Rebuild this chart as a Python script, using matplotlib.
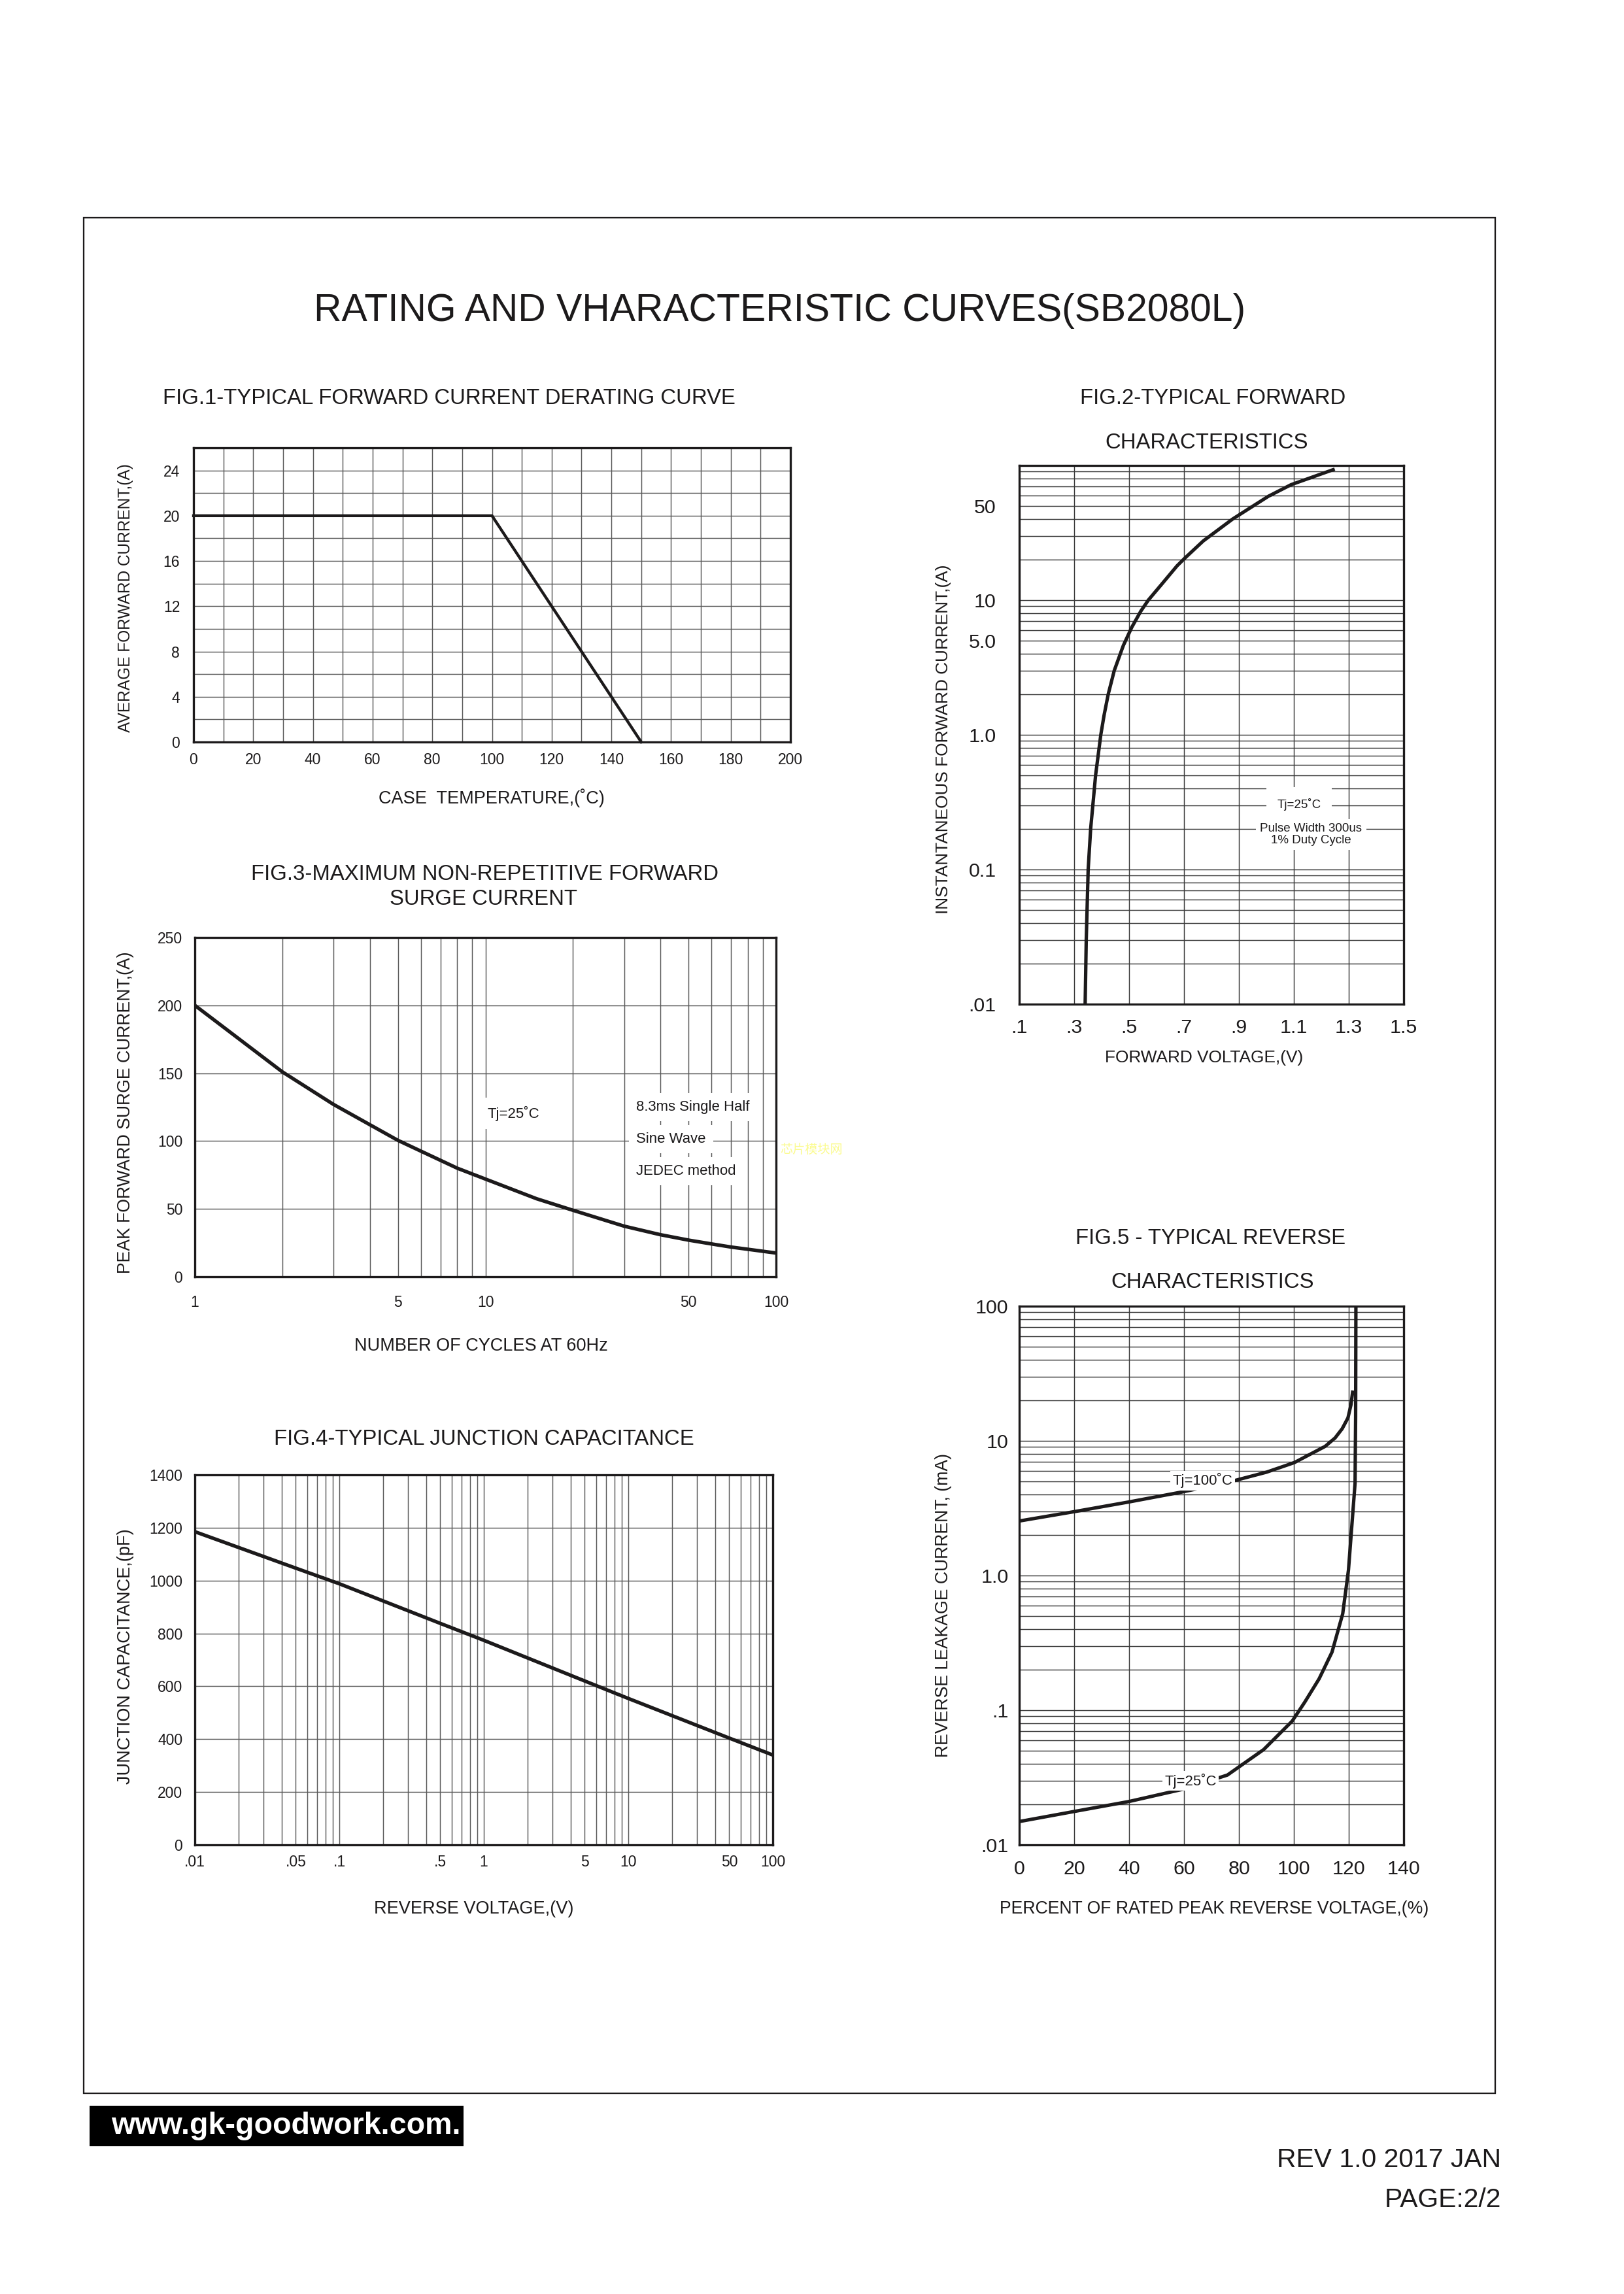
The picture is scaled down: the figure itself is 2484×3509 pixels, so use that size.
import matplotlib
matplotlib.use('Agg')
import matplotlib.pyplot as plt
from matplotlib.ticker import FixedLocator, FixedFormatter, NullFormatter
from matplotlib.patches import Rectangle

W, H, DPI = 2484, 3509, 300
plt.rcParams['font.family'] = ['Liberation Sans', 'DejaVu Sans']
INK = '#1c1a1b'
GRID = '#5a5a5a'

# ---------------- data ----------------
# Fig.1 derating curve
fig1_temp = [0, 100, 150]
fig1_current = [20, 20, 0]
fig1_xticks = [0, 20, 40, 60, 80, 100, 120, 140, 160, 180, 200]
fig1_yticks = [0, 4, 8, 12, 16, 20, 24]

# Fig.2 forward characteristics
fig2_voltage = [0.340, 0.344, 0.351, 0.360, 0.368, 0.378, 0.397, 0.409, 0.424, 0.446,
                0.479, 0.510, 0.543, 0.570, 0.617, 0.675, 0.703, 0.770, 0.877, 1.007,
                1.090, 1.243]
fig2_current = [0.01, 0.03, 0.1, 0.2, 0.3, 0.5, 1.0, 1.4, 2.0, 3.0,
                4.6, 6.3, 8.3, 10, 13, 18, 20.5, 27.5, 40, 59,
                72, 93]
fig2_xticks = [0.1, 0.3, 0.5, 0.7, 0.9, 1.1, 1.3, 1.5]
fig2_xticklabels = ['.1', '.3', '.5', '.7', '.9', '1.1', '1.3', '1.5']
fig2_yticks = [0.01, 0.1, 1.0, 5.0, 10, 50]
fig2_yticklabels = ['.01', '0.1', '1.0', '5.0', '10', '50']

# Fig.3 surge current
fig3_cycles = [1, 2, 3, 5, 8, 10, 15, 20, 30, 40, 50, 60, 70, 100]
fig3_current = [200, 151, 127, 100.5, 80, 72, 57.5, 49, 37.3, 31, 27, 24.2, 21.9, 17.5]
fig3_xticks = [1, 5, 10, 50, 100]
fig3_xticklabels = ['1', '5', '10', '50', '100']
fig3_yticks = [0, 50, 100, 150, 200, 250]

# Fig.4 junction capacitance
fig4_voltage = [0.01, 0.05, 0.1, 0.5, 1, 5, 10, 50, 100]
fig4_cap = [1185, 1047, 988, 838, 774, 620, 554, 404, 340]
fig4_xticks = [0.01, 0.05, 0.1, 0.5, 1, 5, 10, 50, 100]
fig4_xticklabels = ['.01', '.05', '.1', '.5', '1', '5', '10', '50', '100']
fig4_yticks = [0, 200, 400, 600, 800, 1000, 1200, 1400]

# Fig.5 reverse characteristics
fig5_pct_100 = [0, 20, 40, 60, 76.3, 90, 100.2, 111.4, 115, 117.6, 119.7, 120.8, 121.4]
fig5_cur_100 = [2.54, 2.98, 3.52, 4.2, 4.94, 5.85, 6.9, 9.1, 10.5, 12.3, 14.8, 18.5, 23]
fig5_pct_25 = [0, 20, 40, 60, 75.8, 89, 99.4, 104, 109.2, 113.9, 117.8, 119.9, 121.1,
               122.3, 122.5, 122.6]
fig5_cur_25 = [0.0149, 0.0177, 0.021, 0.026, 0.033, 0.051, 0.083, 0.115, 0.171, 0.27,
               0.52, 1.10, 2.31, 4.85, 15, 100]
fig5_xticks = [0, 20, 40, 60, 80, 100, 120, 140]
fig5_yticks = [0.01, 0.1, 1.0, 10, 100]
fig5_yticklabels = ['.01', '.1', '1.0', '10', '100']

# ---------------- figure ----------------
fig = plt.figure(figsize=(W / DPI, H / DPI), dpi=DPI)
fig.patch.set_facecolor('white')


def add_axes(l, t, r, b):
    return fig.add_axes([l / W, 1 - b / H, (r - l) / W, (b - t) / H])


def ftext(x, y, s, **kw):
    return fig.text(x / W, 1 - y / H, s, **kw)


def style(ax, lw=0.8):
    for sp in ax.spines.values():
        sp.set_linewidth(lw)
        sp.set_color(INK)
        sp.set_zorder(5)
    ax.tick_params(which='both', length=0, colors=INK)
    ax.set_axisbelow(True)
    ax.set_facecolor('white')


def log_minor(e0, e1):
    return [m * 10.0 ** e for e in range(e0, e1) for m in range(1, 10)]


# outer frame
fig.add_artist(Rectangle((128 / W, 1 - 3202 / H), (2287 - 128) / W, (3202 - 333) / H,
                         transform=fig.transFigure, fill=False, ec=INK, lw=0.55))

ftext(1193, 491, 'RATING AND VHARACTERISTIC CURVES(SB2080L)', ha='center', va='baseline',
      fontsize=14.1, color=INK)

# ---- Fig.1 ----
ax1 = add_axes(296, 685, 1209, 1135)
style(ax1)
ax1.set_xlim(0, 200)
ax1.set_ylim(0, 26)
ax1.xaxis.set_major_locator(FixedLocator(fig1_xticks))
ax1.xaxis.set_minor_locator(FixedLocator(list(range(0, 201, 10))))
ax1.yaxis.set_major_locator(FixedLocator(fig1_yticks))
ax1.yaxis.set_minor_locator(FixedLocator(list(range(0, 27, 2))))
ax1.xaxis.set_minor_formatter(NullFormatter())
ax1.yaxis.set_minor_formatter(NullFormatter())
ax1.grid(which='both', color=GRID, lw=0.35)
ax1.plot(fig1_temp, fig1_current, color=INK, lw=1.05, zorder=3, clip_on=False)
ax1.tick_params(axis='y', labelsize=5.5, pad=5)
ax1.tick_params(axis='x', labelsize=5.5, pad=3.8)
ftext(687, 618, 'FIG.1-TYPICAL FORWARD CURRENT DERATING CURVE', ha='center', va='baseline',
      fontsize=7.9, color=INK)
ftext(752, 1229, 'CASE  TEMPERATURE,(˚C)', ha='center', va='baseline', fontsize=6.5, color=INK)
ftext(192, 915, 'AVERAGE FORWARD CURRENT,(A)', ha='center', va='center', rotation=90,
      fontsize=5.9, color=INK)

# ---- Fig.2 ----
ax2 = add_axes(1559, 712, 2147, 1536)
style(ax2)
ax2.set_yscale('log')
ax2.set_xlim(0.1, 1.5)
ax2.set_ylim(0.01, 100)
ax2.xaxis.set_major_locator(FixedLocator(fig2_xticks))
ax2.xaxis.set_major_formatter(FixedFormatter(fig2_xticklabels))
ax2.yaxis.set_major_locator(FixedLocator(fig2_yticks))
ax2.yaxis.set_major_formatter(FixedFormatter(fig2_yticklabels))
ax2.yaxis.set_minor_locator(FixedLocator(log_minor(-2, 2)))
ax2.yaxis.set_minor_formatter(NullFormatter())
ax2.grid(which='both', color='#3a3a3a', lw=0.35)
ax2.plot(fig2_voltage, fig2_current, color=INK, lw=1.25, zorder=3,
         solid_joinstyle='round')
ax2.tick_params(axis='y', labelsize=7.3, pad=8.5)
ax2.tick_params(axis='x', labelsize=7.3, pad=5.3)
ax2.text(1.119, 0.305, 'Tj=25˚C', ha='center', va='center', fontsize=4.5, color=INK, zorder=6,
         bbox=dict(boxstyle='square,pad=0.9', fc='white', ec='none'))
ax2.text(1.163, 0.182, 'Pulse Width 300us\n1% Duty Cycle', ha='center', va='center',
         fontsize=4.5, color=INK, zorder=6, linespacing=1.05,
         bbox=dict(boxstyle='square,pad=0.35', fc='white', ec='none'))
ftext(1855, 618, 'FIG.2-TYPICAL FORWARD', ha='center', va='baseline', fontsize=7.9, color=INK)
ftext(1846, 686, 'CHARACTERISTICS', ha='center', va='baseline', fontsize=7.9, color=INK)
ftext(1842, 1625, 'FORWARD VOLTAGE,(V)', ha='center', va='baseline', fontsize=6.3, color=INK)
ftext(1443, 1131, 'INSTANTANEOUS FORWARD CURRENT,(A)', ha='center', va='center', rotation=90,
      fontsize=6.3, color=INK)

# ---- Fig.3 ----
ax3 = add_axes(298, 1434, 1187, 1953)
style(ax3)
ax3.set_xscale('log')
ax3.set_xlim(1, 100)
ax3.set_ylim(0, 250)
ax3.xaxis.set_major_locator(FixedLocator(fig3_xticks))
ax3.xaxis.set_major_formatter(FixedFormatter(fig3_xticklabels))
ax3.xaxis.set_minor_locator(FixedLocator(log_minor(0, 2)))
ax3.xaxis.set_minor_formatter(NullFormatter())
ax3.yaxis.set_major_locator(FixedLocator(fig3_yticks))
ax3.grid(which='both', color=GRID, lw=0.35)
ax3.plot(fig3_cycles, fig3_current, color=INK, lw=1.3, zorder=3, solid_joinstyle='round')
ax3.tick_params(axis='y', labelsize=5.5, pad=4.5)
ax3.tick_params(axis='x', labelsize=5.5, pad=6.7)
ax3.text(12.5, 120.4, 'Tj=25˚C', ha='center', va='center', fontsize=5.3, color=INK, zorder=6,
         bbox=dict(boxstyle='square,pad=0.55', fc='white', ec='none'))
for yy, s in zip([124.8, 101.6, 78.0], ['8.3ms Single Half', 'Sine Wave', 'JEDEC method']):
    ax3.text(33.0, yy, s, ha='left', va='center', fontsize=5.3, color=INK, zorder=6,
             bbox=dict(boxstyle='square,pad=0.5', fc='white', ec='none'))
ftext(741, 1346, 'FIG.3-MAXIMUM NON-REPETITIVE FORWARD', ha='center', va='baseline',
      fontsize=7.9, color=INK)
ftext(740, 1384, 'SURGE CURRENT', ha='center', va='baseline', fontsize=7.9, color=INK)
ftext(736, 2066, 'NUMBER OF CYCLES AT 60Hz', ha='center', va='baseline', fontsize=6.5, color=INK)
ftext(192, 1702, 'PEAK FORWARD SURGE CURRENT,(A)', ha='center', va='center', rotation=90,
      fontsize=6.4, color=INK)
ftext(1193, 1758, '芯片模块网', ha='left', va='center', fontsize=4.6, color='#fbfb90',
      family=['Noto Sans CJK SC', 'DejaVu Sans'])

# ---- Fig.4 ----
ax4 = add_axes(298, 2256, 1182, 2822)
style(ax4)
ax4.set_xscale('log')
ax4.set_xlim(0.01, 100)
ax4.set_ylim(0, 1400)
ax4.xaxis.set_major_locator(FixedLocator(fig4_xticks))
ax4.xaxis.set_major_formatter(FixedFormatter(fig4_xticklabels))
ax4.xaxis.set_minor_locator(FixedLocator(log_minor(-2, 2)))
ax4.xaxis.set_minor_formatter(NullFormatter())
ax4.yaxis.set_major_locator(FixedLocator(fig4_yticks))
ax4.grid(which='both', color=GRID, lw=0.35)
ax4.plot(fig4_voltage, fig4_cap, color=INK, lw=1.3, zorder=3, solid_joinstyle='round')
ax4.tick_params(axis='y', labelsize=5.5, pad=4.5)
ax4.tick_params(axis='x', labelsize=5.5, pad=3.6)
ftext(740, 2210, 'FIG.4-TYPICAL JUNCTION CAPACITANCE', ha='center', va='baseline',
      fontsize=7.9, color=INK)
ftext(725, 2927, 'REVERSE VOLTAGE,(V)', ha='center', va='baseline', fontsize=6.5, color=INK)
ftext(192, 2534, 'JUNCTION CAPACITANCE,(pF)', ha='center', va='center', rotation=90,
      fontsize=6.5, color=INK)

# ---- Fig.5 ----
ax5 = add_axes(1559, 1998, 2147, 2822)
style(ax5)
ax5.set_yscale('log')
ax5.set_xlim(0, 140)
ax5.set_ylim(0.01, 100)
ax5.xaxis.set_major_locator(FixedLocator(fig5_xticks))
ax5.yaxis.set_major_locator(FixedLocator(fig5_yticks))
ax5.yaxis.set_major_formatter(FixedFormatter(fig5_yticklabels))
ax5.yaxis.set_minor_locator(FixedLocator(log_minor(-2, 2)))
ax5.yaxis.set_minor_formatter(NullFormatter())
ax5.grid(which='both', color='#3a3a3a', lw=0.35)
ax5.plot(fig5_pct_100, fig5_cur_100, color=INK, lw=1.25, zorder=3, solid_joinstyle='round')
ax5.plot(fig5_pct_25, fig5_cur_25, color=INK, lw=1.25, zorder=3, solid_joinstyle='round')
ax5.tick_params(axis='y', labelsize=7.3, pad=4)
ax5.tick_params(axis='x', labelsize=7.3, pad=5.5)
ax5.text(66.8, 5.07, 'Tj=100˚C', ha='center', va='center', fontsize=5.3, color=INK, zorder=6,
         bbox=dict(boxstyle='square,pad=0.15', fc='white', ec='none'))
ax5.text(62.4, 0.0298, 'Tj=25˚C', ha='center', va='center', fontsize=5.3, color=INK, zorder=6,
         bbox=dict(boxstyle='square,pad=0.15', fc='white', ec='none'))
ftext(1852, 1903, 'FIG.5 - TYPICAL REVERSE', ha='center', va='baseline', fontsize=7.9, color=INK)
ftext(1855, 1970, 'CHARACTERISTICS', ha='center', va='baseline', fontsize=7.9, color=INK)
ftext(1857, 2927, 'PERCENT OF RATED PEAK REVERSE VOLTAGE,(%)', ha='center', va='baseline',
      fontsize=6.4, color=INK)
ftext(1443, 2456, 'REVERSE LEAKAGE CURRENT, (mA)', ha='center', va='center', rotation=90,
      fontsize=6.4, color=INK)

# ---- footer ----
fig.add_artist(Rectangle((137 / W, 1 - 3283 / H), (709 - 137) / W, (3283 - 3221) / H,
                         transform=fig.transFigure, fc='black', ec='none'))
ftext(437, 3252, 'www.gk-goodwork.com.', ha='center', va='center', fontsize=11.2,
      fontweight='bold', color='white')
ftext(2296, 3315, 'REV 1.0 2017 JAN', ha='right', va='baseline', fontsize=9.8, color=INK)
ftext(2296, 3376, 'PAGE:2/2', ha='right', va='baseline', fontsize=9.8, color=INK)

fig.savefig('out.png', dpi=DPI, facecolor='white')
